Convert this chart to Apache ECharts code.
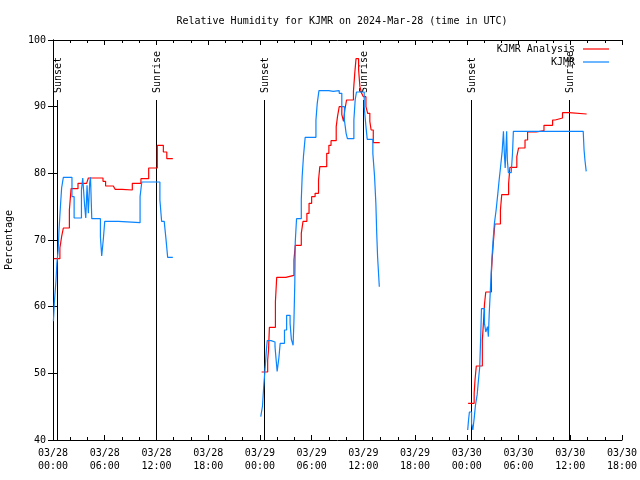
<!DOCTYPE html>
<html>
<head>
<meta charset="utf-8">
<script src="https://cdn.jsdelivr.net/npm/echarts@6/dist/echarts.min.js"></script>
<style>html,body{margin:0;padding:0;background:#fff;}#chart{width:640px;height:480px;}</style>
</head>
<body>
<div id="chart"></div>
<script>
// Hours since 03/28 00:00 UTC, relative humidity (%)
const analysisDay1 = [[0.1,67.2],[0.8,68.8],[1.0,70.5],[1.2,71.8],[1.9,74.5],[2.1,77.7],[2.9,78.5],[3.9,78.7],[4.1,79.3],[5.8,78.8],[6.1,78.1],[7.0,77.8],[7.2,77.6],[8.0,77.5],[9.2,78.5],[10.2,79.2],[11.1,80.8],[12.1,84.2],[12.8,83.2],[13.2,82.2],[13.9,82.2]];
const analysisDay2 = [[24.2,50.2],[24.9,52],[25.0,53.5],[25.1,56.9],[25.8,60.8],[25.95,64.4],[27.0,64.7],[27.95,67],[28.1,69.2],[28.8,71],[29.0,72.8],[29.45,74],[29.7,75.5],[30.0,76.5],[30.4,77],[30.8,79],[30.95,81],[31.75,83],[32.0,84.2],[32.25,84.9],[32.85,87],[33.0,88.5],[33.2,90],[33.5,88.8],[33.7,87.8],[33.85,89.5],[34.05,91],[34.85,92.3],[35.0,95],[35.15,97.2],[35.45,95.5],[35.6,93],[35.8,92],[36.0,91.5],[36.3,90],[36.5,89],[36.75,87.8],[36.9,86.5],[37.15,84.6],[37.9,84.6]];
const analysisDay3 = [[48.15,45.5],[48.85,47],[48.95,49],[49.1,51.1],[49.8,55],[49.95,58],[50.05,60.4],[50.2,62.2],[50.85,65],[50.95,67.3],[51.1,70],[51.25,72.4],[51.9,74.5],[52.05,76.8],[52.85,78.5],[53.0,80.9],[53.8,82.5],[54.0,83.8],[54.75,85],[55.05,86.2],[56.05,86.4],[56.95,87.2],[57.95,88],[58.25,88.3],[59.1,89.1],[59.85,88.9],[61.9,88.9]];

const obsDay1 = [[0.05,57.8],[0.15,60.5],[0.35,64],[0.45,66.5],[0.6,68.5],[0.7,71.5],[0.85,74.8],[1.0,77.8],[1.2,79.4],[2.2,76.5],[2.45,73.3],[3.3,77.5],[3.45,79.3],[3.65,75.5],[3.8,73.3],[3.95,78.2],[4.1,74.0],[4.25,78.5],[4.35,79.4],[4.5,73.2],[5.5,70.5],[5.65,67.6],[5.85,70.3],[6.0,72.8],[7.6,72.6],[10.1,76.5],[10.3,78.7],[12.4,76],[12.6,72.8],[12.9,72.5],[13.1,70.2],[13.3,67.4],[13.9,67.4]];
const obsDay2 = [[24.1,43.5],[24.3,45.1],[24.45,48.2],[24.6,50.7],[24.75,53.5],[24.85,54.9],[25.3,54.7],[25.75,54.0],[25.85,52.5],[26.0,50.3],[26.2,52.3],[26.35,54.5],[26.85,56.5],[27.1,58.7],[27.5,57.5],[27.65,55.1],[27.85,54.2],[27.95,58],[28.05,63.7],[28.1,69.7],[28.25,73.2],[28.8,76],[28.9,79.5],[29.05,82.5],[29.25,85.4],[30.5,88],[30.65,90.5],[30.85,92.4],[32.0,92.3],[32.5,92.4],[33.2,92.0],[33.5,90],[33.8,88],[34.0,86],[34.15,85.2],[34.9,88],[35.05,91],[35.2,92.2],[36.1,90],[36.3,87],[36.45,85.1],[37.1,83],[37.3,79.5],[37.45,75.5],[37.55,71],[37.65,67.5],[37.85,63]];
const obsDay3 = [[48.1,41.5],[48.2,43.0],[48.3,44.2],[48.55,42.5],[48.7,41.5],[48.85,43.2],[49.0,45.2],[49.2,46.8],[49.35,49.0],[49.5,51.0],[49.6,55],[49.7,59.7],[50.05,57.5],[50.2,56.2],[50.4,57.0],[50.5,55.5],[50.6,59],[50.75,63],[50.9,67],[51.05,70],[51.2,72.5],[51.4,74.5],[51.6,77],[51.75,79],[51.9,80.8],[52.1,83.3],[52.25,86.3],[52.35,83],[52.45,80.8],[52.55,84],[52.62,86.3],[52.7,82],[52.82,80.1],[53.15,80.2],[53.3,83],[53.4,86.3],[61.5,86.3],[61.6,83.5],[61.7,82],[61.85,80.3]];

const sunEventHours = [0.45, 11.95, 24.45, 35.95, 48.5, 59.9];
const sunEventNames = ['Sunset', 'Sunrise', 'Sunset', 'Sunrise', 'Sunset', 'Sunrise'];

const xTickLabels = ['03/28\n00:00','03/28\n06:00','03/28\n12:00','03/28\n18:00','03/29\n00:00','03/29\n06:00','03/29\n12:00','03/29\n18:00','03/30\n00:00','03/30\n06:00','03/30\n12:00','03/30\n18:00'];
const yTicks = [40, 50, 60, 70, 80, 90, 100];

const seriesNames = ['KJMR Analysis', 'KJMR'];
const seriesColors = ['#ff0000', '#0a84ff'];
const titleText = 'Relative Humidity for KJMR on 2024-Mar-28 (time in UTC)';

const FONT = 'DejaVu Sans Mono';

function stepSeries(nameIdx, data) {
  return {
    type: 'line', name: seriesNames[nameIdx], step: 'end', showSymbol: false, symbol: 'none',
    color: seriesColors[nameIdx],
    lineStyle: {color: seriesColors[nameIdx], width: 1.2},
    data: data
  };
}

const chart = echarts.init(document.getElementById('chart'), null, {renderer: 'canvas'});
const axisCommon = {
  axisLine: {show: true, lineStyle: {color: '#000', width: 1}},
  splitLine: {show: false}
};
chart.setOption({
  animation: false,
  backgroundColor: '#fff',
  title: {
    text: titleText, left: 337, top: 11, textAlign: 'center',
    textStyle: {fontFamily: FONT, fontSize: 10, fontWeight: 'normal', color: '#000'}
  },
  legend: {
    data: seriesNames, orient: 'vertical', right: 31, top: 44, align: 'right', padding: 0,
    icon: 'rect', itemWidth: 26, itemHeight: 1.2, itemGap: 3,
    textStyle: {fontFamily: FONT, fontSize: 10, color: '#000', padding: [0, 3, 0, 0]}
  },
  grid: {left: 53, right: 18, top: 40, bottom: 40, containLabel: false, outerBoundsMode: 'none'},
  xAxis: [{
    type: 'value', min: 0, max: 66, interval: 6, position: 'bottom',
    ...axisCommon,
    axisTick: {show: true, inside: true, length: 5, lineStyle: {color: '#000'}},
    minorTick: {show: true, splitNumber: 3, length: 3, lineStyle: {color: '#000'}},
    axisLabel: {
      fontFamily: FONT, fontSize: 10, color: '#000', margin: 7, lineHeight: 13,
      formatter: v => xTickLabels[Math.round(v / 6)]
    }
  }, {
    type: 'value', min: 0, max: 66, interval: 6, position: 'top',
    ...axisCommon,
    axisTick: {show: true, inside: true, length: 5, lineStyle: {color: '#000'}},
    minorTick: {show: true, splitNumber: 3, length: 3, lineStyle: {color: '#000'}},
    axisLabel: {show: false}
  }],
  yAxis: [{
    type: 'value', min: yTicks[0], max: yTicks[yTicks.length - 1], interval: 10, position: 'left',
    name: 'Percentage', nameLocation: 'middle', nameGap: 39, nameRotate: 90,
    nameTextStyle: {fontFamily: FONT, fontSize: 10, color: '#000'},
    ...axisCommon,
    axisTick: {show: true, inside: true, length: 5, lineStyle: {color: '#000'}},
    axisLabel: {fontFamily: FONT, fontSize: 10, color: '#000', margin: 7}
  }, {
    type: 'value', min: yTicks[0], max: yTicks[yTicks.length - 1], interval: 10, position: 'right',
    ...axisCommon,
    axisTick: {show: true, inside: true, length: 5, lineStyle: {color: '#000'}},
    axisLabel: {show: false}
  }],
  series: [{
    type: 'custom', name: 'sun', xAxisIndex: 0, yAxisIndex: 0, silent: true,
    data: sunEventHours.map((h, i) => [h, i]),
    renderItem: function (params, api) {
      const x = api.value(0);
      const top = api.coord([x, 91]);
      const bot = api.coord([x, 40]);
      const px = Math.round(top[0]) + 0.5;
      return {
        type: 'group',
        children: [{
          type: 'line',
          shape: {x1: px, y1: Math.round(top[1]), x2: px, y2: bot[1]},
          style: {stroke: '#000', lineWidth: 1}
        }, {
          type: 'text',
          x: px + 0.5, y: top[1] - 7, rotation: Math.PI / 2,
          style: {
            text: sunEventNames[api.value(1)], fill: '#000',
            font: '10px "DejaVu Sans Mono"', textAlign: 'left', textVerticalAlign: 'middle'
          }
        }]
      };
    }
  },
  stepSeries(0, analysisDay1), stepSeries(0, analysisDay2), stepSeries(0, analysisDay3),
  stepSeries(1, obsDay1), stepSeries(1, obsDay2), stepSeries(1, obsDay3)]
});
</script>
</body>
</html>
